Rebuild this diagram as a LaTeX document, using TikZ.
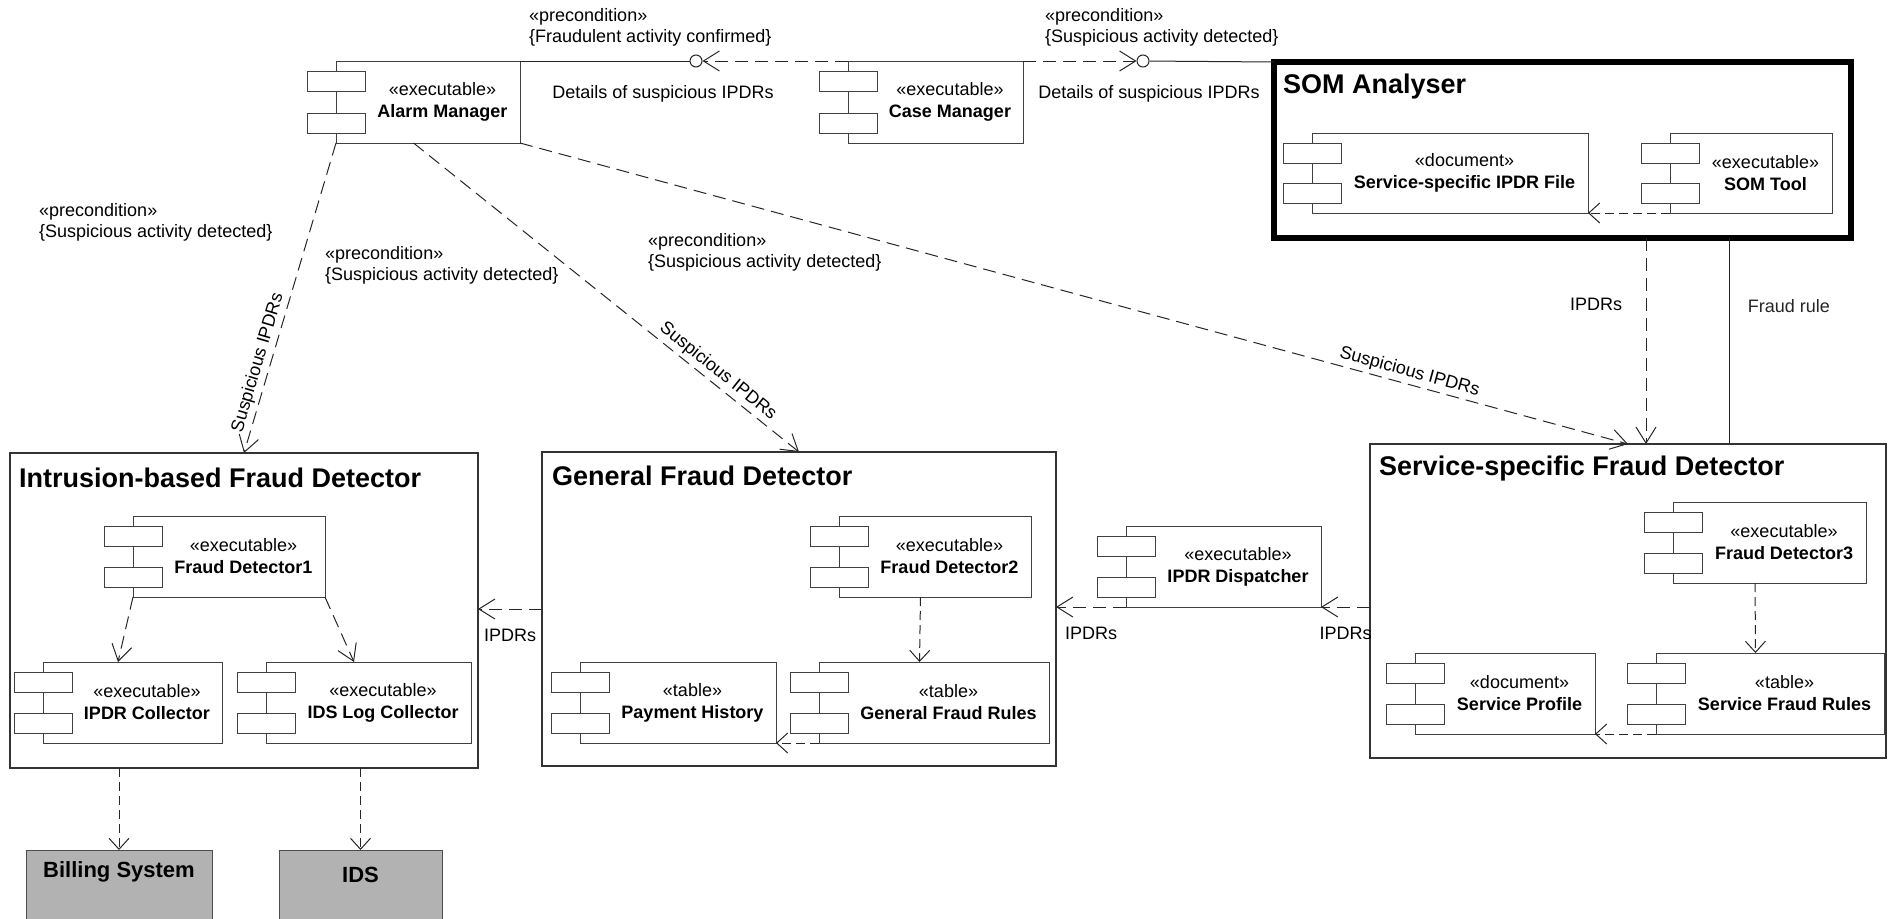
\documentclass[tikz,border=0pt]{standalone}
\usepackage{fontspec}
\setmainfont{Liberation Sans}
\usetikzlibrary{arrows.meta}

% component: name, x1, y1, x2, y2, stereotype, title
\newcommand{\umlcomp}[7]{%
  \node[compbody, minimum width={(#4-#2)*1pt}, minimum height={(#5-#3)*1pt}] (#1) at ({(#2+#4)/2},{(#3+#5)/2}) {};
  \node[comptab] (#1-t1) at (#2,{#3+20}) {};
  \node[comptab] (#1-t2) at (#2,{#5-20}) {};
  \node[comptext] (#1-txt) at ({(#2+#4)/2+14.5},{(#3+#5)/2}) {«#6»\\\textbf{#7}};
}

\begin{document}
\begin{tikzpicture}[x=1pt,y=-1pt,
  every node/.style={font=\fontsize{18}{22}\selectfont},
  compbody/.style={draw=black!75, line width=1pt, inner sep=0, outer sep=0},
  comptab/.style={draw=black!75, fill=white, line width=1pt, minimum width=58pt, minimum height=20pt, inner sep=0, outer sep=0},
  comptext/.style={align=center, inner sep=0},
  frame/.style={draw=black!80, line width=1.2pt, inner sep=0, outer sep=0},
  frametitle/.style={anchor=west, inner sep=0, font=\fontsize{27}{30}\selectfont\bfseries},
  pre/.style={align=left, anchor=west, inner sep=0, font=\fontsize{18}{21}\selectfont},
  dep/.style={draw=black!85, line width=1pt, dash pattern=on 13pt off 7pt, -{Straight Barb[length=16pt,width=20pt]}},
  depshort/.style={dep, dash pattern=on 9pt off 5pt, -{Straight Barb[length=11pt,width=20pt]}},
  ball/.style={circle, draw=black!85, fill=white, line width=1pt, minimum size=12pt, inner sep=0},
  extsys/.style={draw=black!70, fill=black!30, line width=1pt, inner sep=0, outer sep=0},
  extname/.style={font=\fontsize{22}{26}\selectfont\bfseries, inner sep=0}]
\useasboundingbox (0,0) rectangle (1889,918);

% containers
\node[frame, minimum width=468pt, minimum height=315pt] (ifd) at (244,610.5) {};
\node[frametitle] (ifd-title) at (19,478) {Intrusion-based Fraud Detector};
\node[frame, minimum width=514pt, minimum height=314pt] (gfd) at (799,609) {};
\node[frametitle] (gfd-title) at (552,476) {General Fraud Detector};
\node[frame, minimum width=516pt, minimum height=314pt] (ssfd) at (1628,601) {};
\node[frametitle] (ssfd-title) at (1379,469) {Service-specific Fraud Detector};
\node[frame, draw=black, line width=6pt, minimum width=577pt, minimum height=176pt] (som) at (1562.5,150) {};
\node[frametitle] (som-title) at (1283,87) {SOM Analyser};

% components
\umlcomp{alarm}{336}{61}{520}{143}{executable}{Alarm Manager}
\umlcomp{cm}{848}{61}{1023}{143}{executable}{Case Manager}
\umlcomp{ipdrfile}{1312}{133}{1588}{213}{document}{Service-specific IPDR File}
\umlcomp{somtool}{1670}{133}{1832}{213}{executable}{SOM Tool}
\umlcomp{fd1}{133}{516}{325}{597}{executable}{Fraud Detector1}
\umlcomp{ipdrcol}{43}{662}{222}{743}{executable}{IPDR Collector}
\umlcomp{idslog}{266}{662}{471}{743}{executable}{IDS Log Collector}
\umlcomp{fd2}{839}{516}{1031}{597}{executable}{Fraud Detector2}
\umlcomp{payhist}{580}{662}{776}{743}{table}{Payment History}
\umlcomp{gfrules}{819}{662}{1049}{743}{table}{General Fraud Rules}
\umlcomp{disp}{1126}{526}{1321}{607}{executable}{IPDR Dispatcher}
\umlcomp{fd3}{1673}{502}{1866}{583}{executable}{Fraud Detector3}
\umlcomp{svcprof}{1415}{653}{1595}{734}{document}{Service Profile}
\umlcomp{sfrules}{1656}{653}{1884}{734}{table}{Service Fraud Rules}

% external systems
\node[extsys, minimum width=186pt, minimum height=75pt, anchor=north] (billing) at (119,850) {};
\node[extname] (billing-txt) at ([yshift=-22pt]billing.north) {Billing System};
\node[extsys, minimum width=163pt, minimum height=75pt, anchor=north] (ids) at (360.5,850) {};
\node[extname] (ids-txt) at ([yshift=-25pt]ids.north) {IDS};

% interfaces
\node[ball] (ball1) at (696,61) {};
\node[ball] (ball2) at (1143,61) {};
\draw[line width=1pt, black!85] (alarm.north east) -- (ball1);
\draw[dep] (cm.north west) -- (ball1);
\draw[dep] (cm.north east) -- (ball2);
\draw[line width=1pt, black!85] (ball2) -- (som.north west);

% preconditions
\node[pre] (pre-cm) at (529,27) {«precondition»\\\{Fraudulent activity confirmed\}};
\node[pre] (pre-som) at (1045,27) {«precondition»\\\{Suspicious activity detected\}};
\node (det-cm) at (663,94) {Details of suspicious IPDRs};
\node (det-som) at (1149,94) {Details of suspicious IPDRs};
\node[pre] (pre-ifd) at (39,222) {«precondition»\\\{Suspicious activity detected\}};
\node[pre] (pre-gfd) at (325,265) {«precondition»\\\{Suspicious activity detected\}};
\node[pre] (pre-ssfd) at (648,252) {«precondition»\\\{Suspicious activity detected\}};

% alarm manager to detectors
\draw[dep] (alarm.south west) -- node[sloped, above, pos=0.72] (lbl-ifd) {Suspicious IPDRs} (ifd.north);
\draw[dep] ([xshift=-14.5pt]alarm.south) -- node[sloped, above, pos=0.77] (lbl-gfd) {Suspicious IPDRs} (gfd.north);
\draw[dep] (alarm.south east) -- node[sloped, above, pos=0.8] (lbl-ssfd) {Suspicious IPDRs} (ssfd.north);

% SOM analyser to service-specific detector
\draw[dep] ([xshift=83.5pt]som.south) -- node[left=20pt, pos=0.32] (lbl-som) {IPDRs} ([xshift=18pt]ssfd.north);
\draw[line width=1pt, black!85] ([xshift=166.5pt]som.south) -- node[right=15pt, pos=0.33] (lbl-rule) {Fraud rule} ([xshift=101pt]ssfd.north);

% IPDR flow
\draw[dep] (gfd.west) -- node[below=16pt] (lbl-gi) {IPDRs} (gfd.west -| ifd.east);
\draw[dep] (disp.south west) -- node[below=16pt] (lbl-dg) {IPDRs} (disp.south west -| gfd.east);
\draw[dep] (disp.south east -| ssfd.west) -- node[below=16pt] (lbl-sd) {IPDRs} (disp.south east);

% inside the detectors
\draw[dep] (fd1.south west) -- ([xshift=-14.5pt]ipdrcol.north);
\draw[dep] (fd1.south east) -- ([xshift=-14.5pt]idslog.north);
\draw[depshort] ([xshift=-14.5pt]fd2.south) -- ([xshift=-14.5pt]gfrules.north);
\draw[depshort] (gfrules.south west) -- (payhist.south east);
\draw[depshort] ([xshift=-14.5pt]fd3.south) -- ([xshift=-14.5pt]sfrules.north);
\draw[depshort] (sfrules.south west) -- (svcprof.south east);
\draw[depshort] (somtool.south west) -- (ipdrfile.south east);
\draw[depshort] (billing.north |- ifd.south) -- (billing.north);
\draw[depshort] (ids.north |- ifd.south) -- (ids.north);
\end{tikzpicture}
\end{document}
